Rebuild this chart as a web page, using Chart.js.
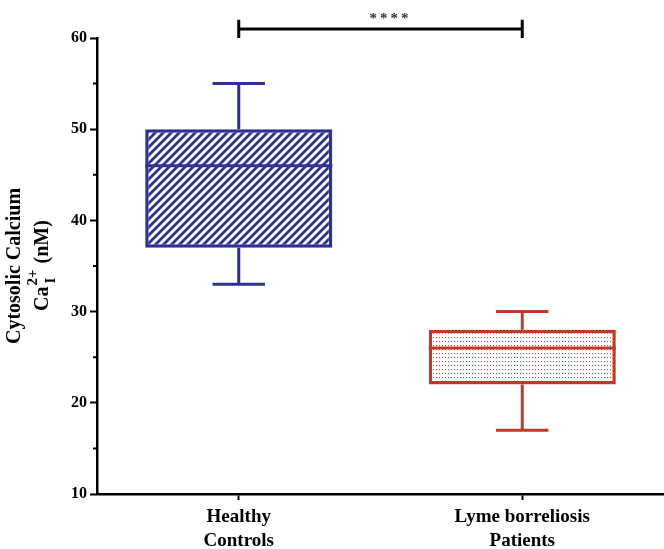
<!DOCTYPE html>
<html>
<head>
<meta charset="utf-8">
<script src="https://cdn.jsdelivr.net/npm/chart.js@4/dist/chart.umd.min.js"></script>
<style>
  html, body { margin: 0; padding: 0; background: #fff; overflow: hidden; }
  #wrap { width: 664px; height: 549px; position: relative; }
</style>
</head>
<body>
<div id="wrap"><canvas id="chart"></canvas></div>
<script>
// box plot values (nM)
const groups = [['Healthy', 'Controls'], ['Lyme borreliosis', 'Patients']];
const whiskerLow = [33, 17];
const q1 = [37, 22];
const median = [46, 26];
const q3 = [50, 28];
const whiskerHigh = [55, 30];
const boxColors = ['#2e3192', '#c0392b'];

const yMin = 10, yMax = 60, yStep = 10;
const minorTicks = [15, 25, 35, 45, 55];
const sigLevel = 61;
const sigLabel = '****';

const serif = "'Liberation Serif', 'Times New Roman', serif";

function hatchPattern(color) {
    const c = document.createElement('canvas');
    c.width = 8; c.height = 8;
    const g = c.getContext('2d');
    g.fillStyle = '#fff';
    g.fillRect(0, 0, 8, 8);
    g.strokeStyle = color;
    g.lineWidth = 2.8;
    g.beginPath();
    g.moveTo(-1, 9); g.lineTo(9, -1);
    g.moveTo(-3, 3); g.lineTo(3, -3);
    g.moveTo(5, 11); g.lineTo(11, 5);
    g.stroke();
    return g.createPattern(c, 'repeat');
}

function dotPattern(color) {
    const c = document.createElement('canvas');
    c.width = 3; c.height = 4;
    const g = c.getContext('2d');
    g.fillStyle = '#fff';
    g.fillRect(0, 0, 3, 4);
    g.fillStyle = color;
    g.fillRect(1, 1, 1, 1);
    return g.createPattern(c, 'repeat');
}

// medians, whiskers, minor ticks, significance bar and y title
const boxParts = {
    id: 'boxParts',
    afterDatasetsDraw(chart) {
        const { ctx, scales: { y } } = chart;
        const meta = chart.getDatasetMeta(0);
        ctx.save();
        ctx.lineWidth = 3;
        meta.data.forEach((bar, i) => {
            const half = bar.width / 2;
            const cap = bar.width * 0.14;
            const yMed = y.getPixelForValue(median[i]);
            const yHi = y.getPixelForValue(whiskerHigh[i]);
            const yLo = y.getPixelForValue(whiskerLow[i]);
            ctx.strokeStyle = boxColors[i];
            ctx.beginPath();
            ctx.moveTo(bar.x - half, yMed); ctx.lineTo(bar.x + half, yMed);
            ctx.moveTo(bar.x, y.getPixelForValue(q3[i])); ctx.lineTo(bar.x, yHi);
            ctx.moveTo(bar.x - cap, yHi); ctx.lineTo(bar.x + cap, yHi);
            ctx.moveTo(bar.x, y.getPixelForValue(q1[i])); ctx.lineTo(bar.x, yLo);
            ctx.moveTo(bar.x - cap, yLo); ctx.lineTo(bar.x + cap, yLo);
            ctx.stroke();
        });
        ctx.restore();
    },
    afterDraw(chart) {
        const { ctx, chartArea, scales: { x, y } } = chart;
        ctx.save();
        // minor ticks
        ctx.strokeStyle = '#000';
        ctx.lineWidth = 2;
        ctx.beginPath();
        minorTicks.forEach(v => {
            const py = y.getPixelForValue(v);
            ctx.moveTo(chartArea.left - 4, py); ctx.lineTo(chartArea.left, py);
        });
        ctx.stroke();

        // significance bracket
        const x0 = x.getPixelForValue(0), x1 = x.getPixelForValue(1);
        const yb = y.getPixelForValue(sigLevel);
        const yt = y.getPixelForValue(sigLevel + 1), ybt = y.getPixelForValue(sigLevel - 1);
        ctx.lineWidth = 3;
        ctx.beginPath();
        ctx.moveTo(x0, yb); ctx.lineTo(x1, yb);
        ctx.moveTo(x0, yt); ctx.lineTo(x0, ybt);
        ctx.moveTo(x1, yt); ctx.lineTo(x1, ybt);
        ctx.stroke();
        ctx.fillStyle = '#333';
        ctx.font = 'bold 15px ' + serif;
        ctx.textAlign = 'center';
        ctx.textBaseline = 'middle';
        ctx.letterSpacing = '3px';
        ctx.fillText(sigLabel, (x0 + x1) / 2 + 10, yb - 10);
        ctx.letterSpacing = '0px';

        // y axis title, two lines with super/subscript
        ctx.fillStyle = '#000';
        const cy = 266;
        ctx.save();
        ctx.translate(15, cy);
        ctx.rotate(-Math.PI / 2);
        ctx.font = 'bold 20px ' + serif;
        ctx.fillText('Cytosolic Calcium', 0, 0);
        ctx.restore();

        ctx.save();
        ctx.translate(43, cy);
        ctx.rotate(-Math.PI / 2);
        ctx.textAlign = 'left';
        const big = 'bold 20px ' + serif, small = 'bold 15px ' + serif;
        ctx.font = big;
        const wCa = ctx.measureText('Ca').width;
        const wRest = ctx.measureText(' (nM)').width;
        ctx.font = small;
        const wSup = ctx.measureText('2+').width;
        const wSub = ctx.measureText('I').width;
        const wScript = Math.max(wSup, wSub) + 1;
        let px = -(wCa + wScript + wRest) / 2;
        ctx.font = big;
        ctx.fillText('Ca', px, 0);
        px += wCa + 1;
        ctx.font = small;
        ctx.fillText('2+', px, -10);
        ctx.fillText('I', px + 2, 8);
        px += wScript;
        ctx.font = big;
        ctx.fillText(' (nM)', px, 0);
        ctx.restore();
        ctx.restore();
    }
};

const data = {
    labels: groups,
    datasets: [{
        data: q1.map((v, i) => [v, q3[i]]),
        backgroundColor: [hatchPattern(boxColors[0]), dotPattern('#cc3f2e')],
        borderColor: boxColors,
        borderWidth: 3.5,
        borderSkipped: false,
        barPercentage: 0.66,
        categoryPercentage: 1
    }]
};

const config = {
    type: 'bar',
    data: data,
    plugins: [boxParts],
    options: {
        responsive: true,
        maintainAspectRatio: false,
        animation: false,
        layout: { padding: { top: 38, left: 0, right: 0, bottom: 0 } },
        plugins: {
            legend: { display: false },
            tooltip: { enabled: false }
        },
        scales: {
            x: {
                afterFit: s => { s.height = 55; },
                grid: { drawOnChartArea: false, offset: false, tickLength: 6, tickColor: '#000', tickWidth: 2 },
                border: { color: '#000', width: 2.5 },
                ticks: {
                    color: '#000',
                    padding: 5,
                    maxRotation: 0,
                    autoSkip: false,
                    font: { family: serif, size: 19, weight: 'bold', lineHeight: 1.25 }
                }
            },
            y: {
                min: yMin,
                max: yMax,
                afterFit: s => { s.width = 97; },
                grid: { drawOnChartArea: false, tickLength: 7, tickColor: '#000', tickWidth: 2 },
                border: { color: '#000', width: 2.5 },
                ticks: {
                    stepSize: yStep,
                    color: '#000',
                    padding: 3,
                    font: { family: serif, size: 16, weight: 'bold' }
                }
            }
        }
    }
};

new Chart(document.getElementById('chart'), config);
</script>
</body>
</html>
